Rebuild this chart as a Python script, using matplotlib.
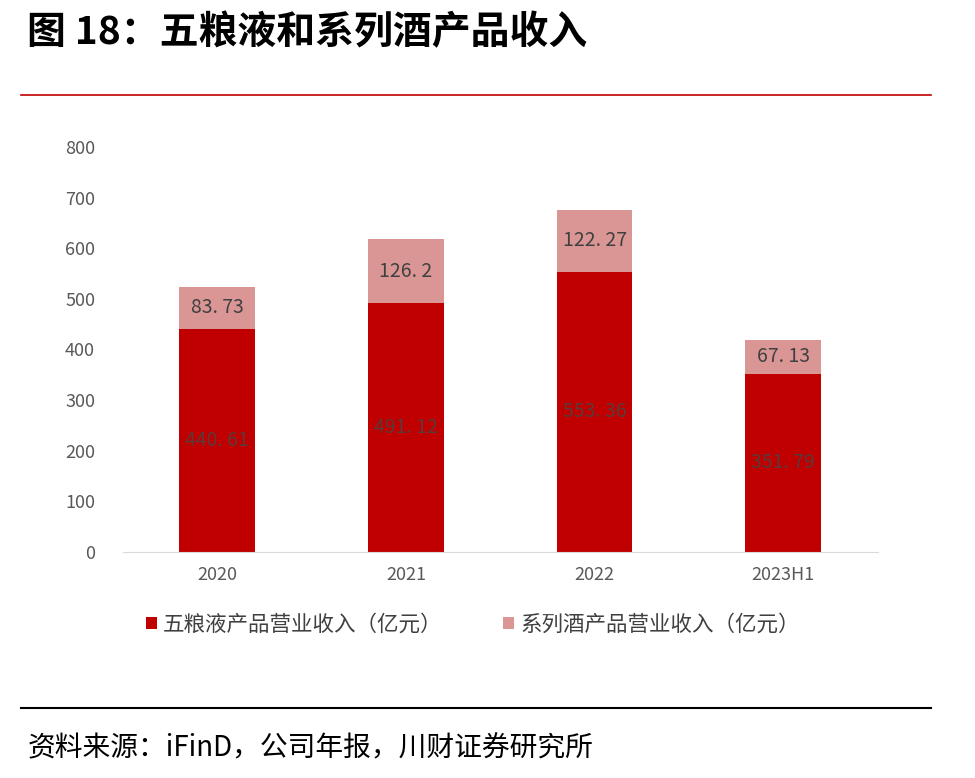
import matplotlib.pyplot as plt
import numpy as np
from matplotlib.lines import Line2D

plt.rcParams['font.family'] = ['Noto Sans CJK SC', 'DejaVu Sans']

years = ["2020", "2021", "2022", "2023H1"]
wly_rev = [440.61, 491.12, 553.36, 351.79]
series_rev = [83.73, 126.2, 122.27, 67.13]
wly_labels = ["440. 61", "491. 12", "553. 36", "351. 79"]
series_labels = ["83. 73", "126. 2", "122. 27", "67. 13"]

dark_red = "#C00000"
light_red = "#D99694"

fig = plt.figure(figsize=(9.75, 7.78), dpi=100)
ax = fig.add_axes([0.126, 0.2905, 0.774, 0.5206])

x = np.arange(len(years))
w = 0.40
ax.bar(x, wly_rev, width=w, color=dark_red, label="五粮液产品营业收入（亿元）")
ax.bar(x, series_rev, width=w, bottom=wly_rev, color=light_red,
       label="系列酒产品营业收入（亿元）")

for i in range(len(years)):
    ax.text(x[i], wly_rev[i] / 2, wly_labels[i], ha='center', va='center',
            fontsize=14, color="#5a3a3a")
    ax.text(x[i], wly_rev[i] + series_rev[i] / 2, series_labels[i], ha='center',
            va='center', fontsize=14, color="#404040")

ax.set_xlim(-0.5, 3.5)
ax.set_ylim(0, 800)
ax.set_yticks(range(0, 801, 100))
ax.set_xticks(x)
ax.set_xticklabels(years)
ax.tick_params(axis='both', length=0, labelsize=13, colors="#595959")
ax.tick_params(axis='y', pad=20)
ax.tick_params(axis='x', pad=10)
for s in ['top', 'right', 'left']:
    ax.spines[s].set_visible(False)
ax.spines['bottom'].set_color("#d9d9d9")

ax.legend(loc='upper left', bbox_to_anchor=(0.005, -0.105), ncol=2, frameon=False,
          fontsize=15.5, handlelength=0.5, handleheight=0.5, handletextpad=0.3,
          columnspacing=2.8, labelcolor="#404040")

fig.text(0.028, 0.958, "图 18：五粮液和系列酒产品收入", fontsize=28, fontweight='bold',
         va='center', ha='left', color="black")
fig.add_artist(Line2D([0.022, 0.955], [0.878, 0.878], color=dark_red, lw=1.2))
fig.add_artist(Line2D([0.022, 0.955], [0.09, 0.09], color="black", lw=1.5))
fig.text(0.028, 0.038, "资料来源：iFinD，公司年报，川财证券研究所", fontsize=20,
         style='italic', va='center', ha='left', color="black")

fig.savefig("out.png", dpi=100)
